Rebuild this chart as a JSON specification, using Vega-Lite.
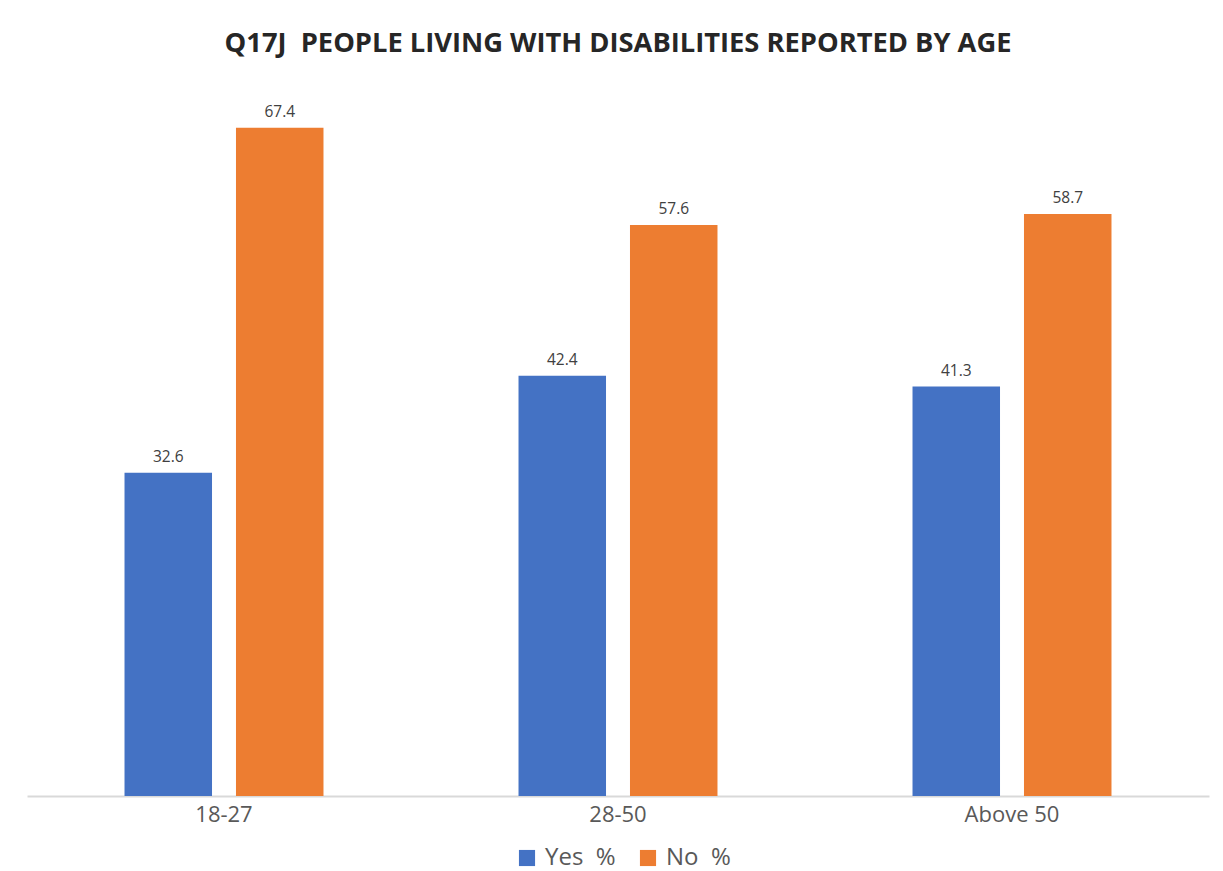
{
  "$schema": "https://vega.github.io/schema/vega-lite/v6.json",
  "width": 1182,
  "height": 694,
  "autosize": {"type": "none"},
  "padding": {"left": 27, "top": 102, "right": 14, "bottom": 75},
  "background": "white",
  "title": {
    "text": "Q17J\u00a0 PEOPLE LIVING WITH DISABILITIES REPORTED BY AGE",
    "font": "Open Sans",
    "fontSize": 27.3,
    "fontWeight": "bold",
    "color": "#262626",
    "anchor": "middle",
    "offset": 45
  },
  "data": {
    "values": [
      {"age": "18-27", "series": "Yes\u00a0 %", "value": 32.6},
      {"age": "18-27", "series": "No\u00a0 %", "value": 67.4},
      {"age": "28-50", "series": "Yes\u00a0 %", "value": 42.4},
      {"age": "28-50", "series": "No\u00a0 %", "value": 57.6},
      {"age": "Above 50", "series": "Yes\u00a0 %", "value": 41.3},
      {"age": "Above 50", "series": "No\u00a0 %", "value": 58.7}
    ]
  },
  "encoding": {
    "x": {
      "field": "age",
      "type": "nominal",
      "sort": ["18-27", "28-50", "Above 50"],
      "scale": {"paddingInner": 0.495, "paddingOuter": 0.2475},
      "axis": {
        "title": null,
        "labelAngle": 0,
        "labelFont": "Open Sans",
        "labelFontSize": 22,
        "labelColor": "#595959",
        "labelPadding": 8,
        "domainColor": "#d9d9d9",
        "domainWidth": 2,
        "ticks": false
      }
    },
    "xOffset": {
      "field": "series",
      "type": "nominal",
      "sort": ["Yes\u00a0 %", "No\u00a0 %"],
      "scale": {"paddingInner": 0.215, "paddingOuter": 0}
    },
    "y": {
      "field": "value",
      "type": "quantitative",
      "scale": {"domain": [0, 70], "nice": false},
      "axis": null
    }
  },
  "layer": [
    {
      "mark": {"type": "bar"},
      "encoding": {
        "color": {
          "field": "series",
          "type": "nominal",
          "sort": ["Yes\u00a0 %", "No\u00a0 %"],
          "scale": {"domain": ["Yes\u00a0 %", "No\u00a0 %"], "range": ["#4472C4", "#ED7D31"]},
          "legend": {
            "title": null,
            "orient": "none",
            "legendX": 488,
            "legendY": 744,
            "direction": "horizontal",
            "symbolType": "square",
            "symbolSize": 260,
            "symbolStrokeWidth": 0,
            "labelFont": "Open Sans",
            "labelFontSize": 24,
            "labelColor": "#595959",
            "columnPadding": 20,
            "labelOffset": 6
          }
        }
      }
    },
    {
      "mark": {"type": "text", "dy": -16, "font": "Open Sans", "fontSize": 15.5, "color": "#404040"},
      "encoding": {
        "text": {"field": "value", "type": "quantitative", "format": ".1f"}
      }
    }
  ],
  "config": {"view": {"stroke": null}}
}
